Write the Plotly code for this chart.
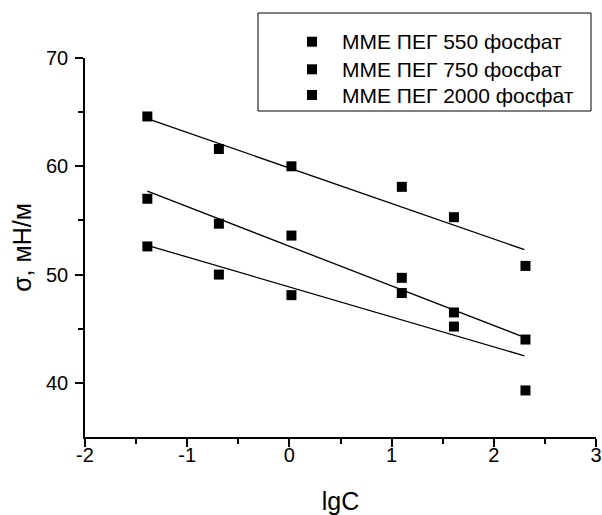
import plotly.graph_objects as go

# lgC values (x)
lgC = [-1.39, -0.69, 0.02, 1.10, 1.61, 2.31]

# surface tension, mN/m
sigma_550 = [64.6, 61.6, 60.0, 58.1, 55.3, 50.8]
sigma_750 = [57.0, 54.7, 53.6, 48.3, 46.5, 44.0]
sigma_2000 = [52.6, 50.0, 48.1, 49.7, 45.2, 39.3]

# linear fit lines: x range and end values
fit_x = [-1.39, 2.30]
fit_550 = [64.4, 52.3]
fit_750 = [57.7, 44.2]
fit_2000 = [52.7, 42.5]

names = ["ММЕ ПЕГ 550 фосфат", "ММЕ ПЕГ 750 фосфат", "ММЕ ПЕГ 2000 фосфат"]

x_ticks = [-2, -1, 0, 1, 2, 3]
x_ticktext = ["-2", "-1", "0", "1", "2", "3"]
y_ticks = [40, 50, 60, 70]

W, H = 602, 515
L, R, T, B = 85, 6, 58, 78
PW, PH = W - L - R, H - T - B


def px2x(px):
    return (px - L) / PW


def py2y(py):
    return (H - B - py) / PH


fig = go.Figure()
for ys, name in zip([sigma_550, sigma_750, sigma_2000], names):
    fig.add_trace(go.Scatter(
        x=lgC, y=ys, mode="markers", name=name, showlegend=False,
        marker=dict(symbol="square", size=10, color="black"),
    ))
for fy in [fit_550, fit_750, fit_2000]:
    fig.add_trace(go.Scatter(
        x=fit_x, y=fy, mode="lines", showlegend=False,
        line=dict(color="black", width=1.3),
    ))

font_family = "Liberation Sans, Arial, sans-serif"

# legend box drawn by hand (to match original placement)
shapes = [dict(type="rect", xref="paper", yref="paper",
               x0=px2x(258), x1=px2x(591), y0=py2y(111), y1=py2y(13),
               line=dict(color="black", width=1), fillcolor="white", layer="above")]
annotations = []
rows_py = [41.7, 69.3, 95.0]
for name, rpy in zip(names, rows_py):
    shapes.append(dict(type="rect", xref="paper", yref="paper",
                       xsizemode="pixel", ysizemode="pixel",
                       xanchor=px2x(312), yanchor=py2y(rpy),
                       x0=-5, x1=5, y0=-5, y1=5,
                       line=dict(width=0), fillcolor="black", layer="above"))
    annotations.append(dict(text=name, xref="paper", yref="paper",
                            x=px2x(340), y=py2y(rpy), xanchor="left", yanchor="middle",
                            showarrow=False, font=dict(size=21, family=font_family, color="black")))

fig.update_layout(
    width=W, height=H,
    margin=dict(l=L, r=R, t=T, b=B, autoexpand=False),
    paper_bgcolor="white", plot_bgcolor="white",
    font=dict(family=font_family, color="black", size=20),
    showlegend=False,
    shapes=shapes, annotations=annotations,
)
fig.update_xaxes(
    range=[-2, 3], tickvals=x_ticks, ticktext=x_ticktext,
    showline=True, linecolor="black", linewidth=1.6,
    ticks="outside", ticklen=8, tickwidth=1.6, tickcolor="black",
    minor=dict(dtick=0.5, ticks="outside", ticklen=5, tickwidth=1.6, tickcolor="black"),
    showgrid=False, zeroline=False, mirror=False, automargin=False,
    tickfont=dict(size=20), ticklabelstandoff=-9,
    title=dict(text="lgC", font=dict(size=25), standoff=30),
)
fig.update_yaxes(
    range=[35, 70], tickvals=y_ticks,
    showline=True, linecolor="black", linewidth=1.6,
    ticks="outside", ticklen=8, tickwidth=1.6, tickcolor="black",
    minor=dict(tickvals=[45, 55, 65], ticks="outside", ticklen=5, tickwidth=1.6, tickcolor="black"),
    showgrid=False, zeroline=False, mirror=False, automargin=False,
    tickfont=dict(size=20), ticklabelstandoff=3,
    title=dict(text="σ, мН/м", font=dict(size=25), standoff=7),
)
# remove the browser's default page margin so the 602x515 figure fills the window
fig.write_html(
    "out.html",
    config={"displayModeBar": False},
    post_script="document.body.style.margin='0';document.body.style.overflow='hidden';",
)
